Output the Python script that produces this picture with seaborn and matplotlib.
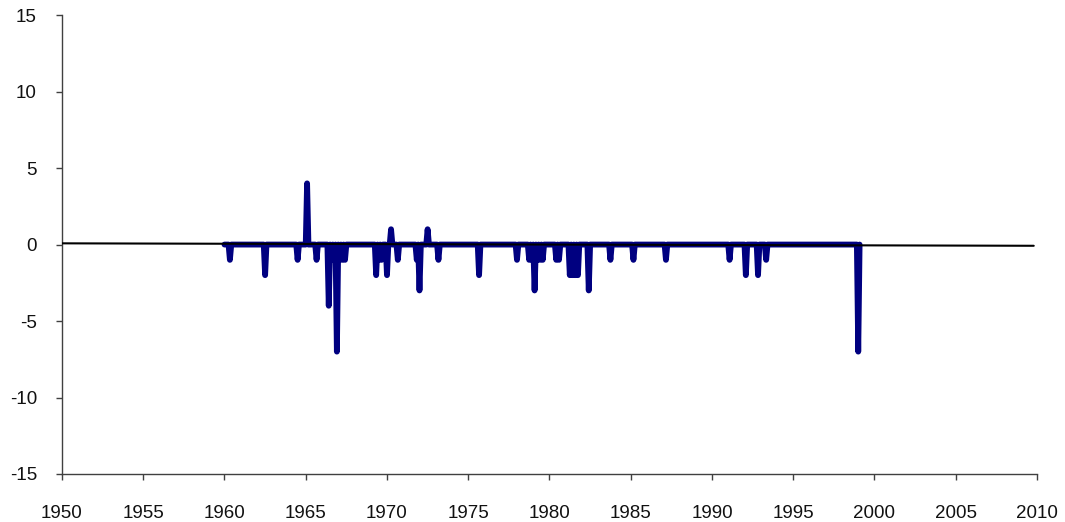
import numpy as np
import pandas as pd
import matplotlib
matplotlib.use("Agg")
import matplotlib.pyplot as plt
import seaborn as sns

# monthly series 1960-01 .. 1999-02, zero except for these months
series_start = "1960-01"
series_end = "1999-02"
event_months = ["1960-05", "1962-07", "1964-07", "1965-02", "1965-09",
                "1966-06", "1966-08", "1966-10", "1966-12", "1967-02", "1967-04", "1967-06",
                "1969-05", "1969-07", "1969-09", "1970-01", "1970-04", "1970-09",
                "1971-11", "1972-01", "1972-07", "1973-03",
                "1975-09", "1978-01",
                "1978-10", "1978-12", "1979-02", "1979-04", "1979-06", "1979-08",
                "1980-06", "1980-08",
                "1981-04", "1981-06", "1981-08", "1981-10",
                "1982-06", "1983-10", "1985-03", "1987-03",
                "1991-02", "1992-02", "1992-11", "1993-05", "1999-01"]
event_values = [-1, -2, -1, 4, -1,
                -4, -1, -1, -7, -1, -1, -1,
                -2, -1, -1, -2, 1, -1,
                -1, -3, 1, -1,
                -2, -1,
                -1, -1, -3, -1, -1, -1,
                -1, -1,
                -2, -2, -2, -2,
                -3, -1, -1, -1,
                -1, -2, -2, -1, -7]

# thin black trend line
trend_years = [1950.0, 2009.8]
trend_values = [0.08, -0.08]

months = pd.period_range(series_start, series_end, freq="M")
vals = pd.Series(0.0, index=months)
for m, v in zip(event_months, event_values):
    vals[pd.Period(m, freq="M")] = v
df = pd.DataFrame({"year": months.year + (months.month - 1) / 12.0, "value": vals.values})
trend = pd.DataFrame({"year": trend_years, "value": trend_values})

sns.set_style("ticks")
plt.rcParams["font.family"] = ["Liberation Sans", "DejaVu Sans"]
plt.rcParams["axes.unicode_minus"] = False

fig = plt.figure(figsize=(10.65, 5.22), dpi=100)
ax = fig.add_axes([0.0582, 0.092, 0.9155, 0.879])

sns.lineplot(data=df, x="year", y="value", ax=ax, color="#000080", linewidth=4.2,
             estimator=None, sort=False, solid_joinstyle="round", solid_capstyle="round", zorder=2)
sns.lineplot(data=trend, x="year", y="value", ax=ax, color="black", linewidth=1.5,
             estimator=None, sort=False, zorder=3)

ax.set_xlim(1950, 2010)
ax.set_ylim(-15, 15)
ax.set_xticks(range(1950, 2011, 5))
ax.set_yticks(range(-15, 16, 5))
ax.set_xlabel("")
ax.set_ylabel("")
sns.despine(ax=ax)
for s in ("left", "bottom"):
    ax.spines[s].set_color("#404040")
    ax.spines[s].set_linewidth(1.0)
ax.tick_params(axis="both", direction="out", length=4, width=1.0, color="#404040",
               labelsize=13.5, labelcolor="#111111")
ax.tick_params(axis="x", pad=18)
ax.tick_params(axis="y", pad=14)

fig.savefig("out.png", dpi=100)
